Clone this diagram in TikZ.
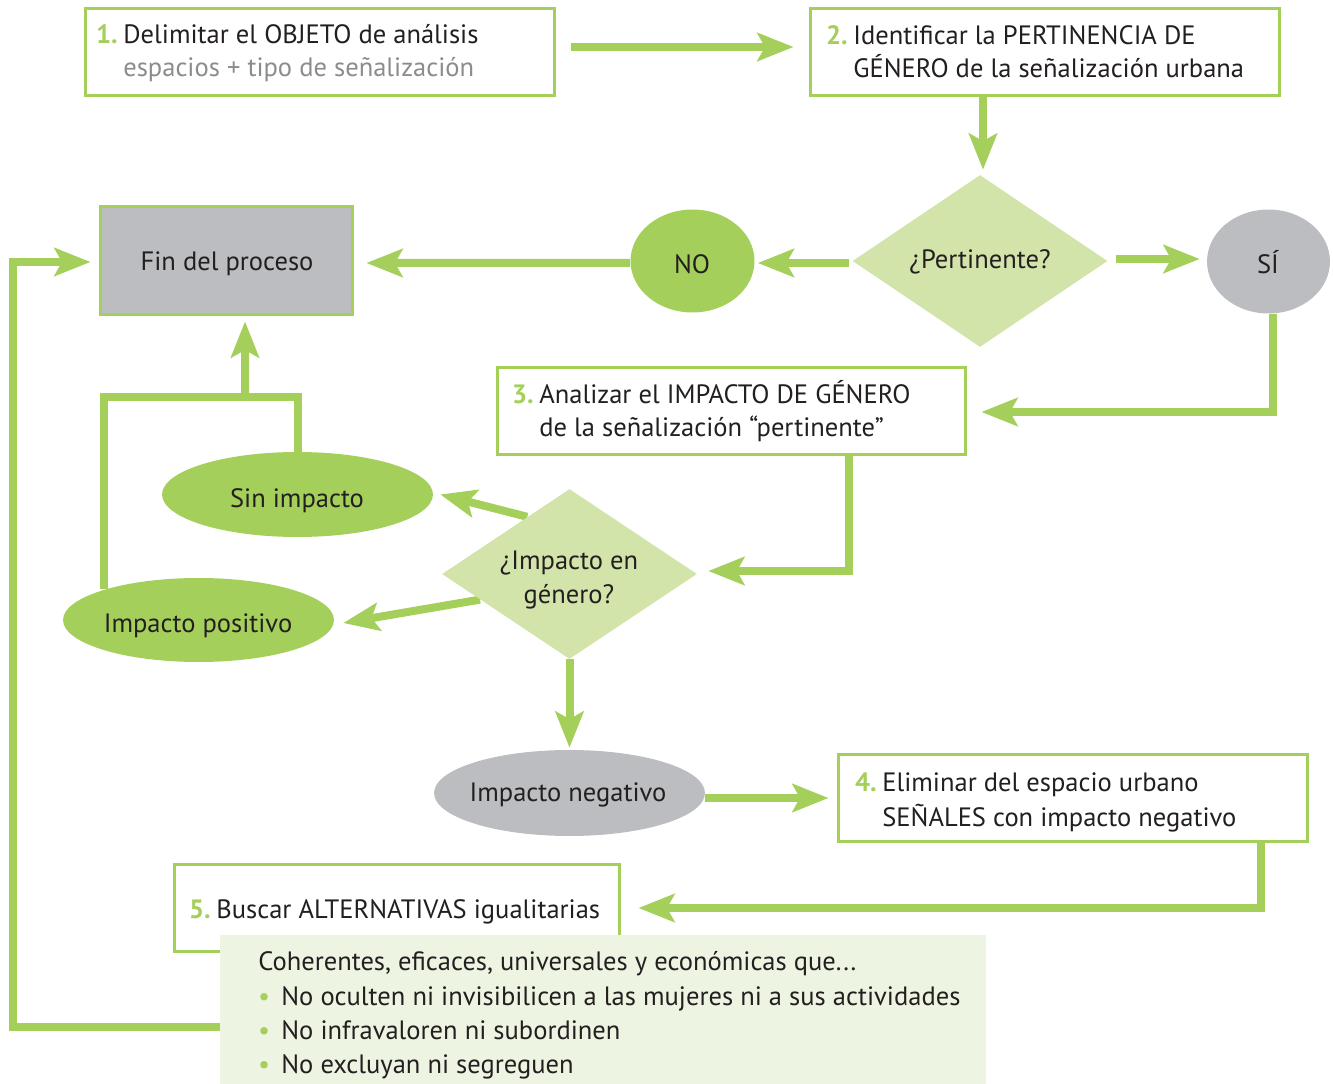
\documentclass[tikz,border=0pt]{standalone}
\usepackage{fontspec}
\setmainfont{PT Sans}
\usetikzlibrary{arrows.meta,shapes.geometric,calc}
\definecolor{gr}{HTML}{A5CF5B}
\definecolor{dfill}{HTML}{D2E4A9}
\definecolor{gy}{HTML}{BCBDC0}
\definecolor{pale}{HTML}{EEF4E2}
\definecolor{txt}{HTML}{231F20}
\definecolor{subt}{HTML}{8C8C8C}
\newcommand\mysz{\fontsize{15.1}{18}\selectfont}
\pgfdeclarelayer{bg}
\pgfsetlayers{bg,main}
\begin{document}
\begin{tikzpicture}[x=0.02cm,y=-0.02cm,
  box/.style={draw=gr,line width=0.06cm,rectangle,inner sep=0,fill=white},
  gbox/.style={box,fill=gy},
  dia/.style={diamond,fill=dfill,draw=none,inner sep=0},
  ell/.style={ellipse,draw=none,inner sep=0},
  conn/.style={draw=gr,line width=0.16cm,line join=miter},
  arr/.style={conn,-{Stealth[length=0.72cm,width=0.56cm,inset=0.15cm]}},
  lab/.style={anchor=base west,inner sep=0,text=txt,font=\mysz},
  clab/.style={anchor=base,inner sep=0,text=txt,font=\mysz,align=center},
  num/.style={anchor=base east,inner sep=0,text=gr,font=\mysz\bfseries},
  bul/.style={anchor=base,inner sep=0,text=gr,font=\mysz},
  gtxt/.style={anchor=base west,inner sep=0,text=subt,font=\mysz}
]
\useasboundingbox (0,0) rectangle (1333,1084);

% shapes
\node[box,minimum width=9.4cm,minimum height=1.76cm] (b1) at (320,52) {};
\node[box,minimum width=9.4cm,minimum height=1.76cm] (b2) at (1045,52) {};
\node[gbox,minimum width=5.06cm,minimum height=2.18cm] (fin) at (226.5,260.5) {};
\node[dia,minimum width=5.1cm,minimum height=3.44cm] (d1) at (980,261) {};
\node[ell,fill=gr,minimum width=2.48cm,minimum height=2.06cm] (no) at (692.5,261) {};
\node[ell,fill=gy,minimum width=2.46cm,minimum height=2.08cm] (si) at (1268.5,261.5) {};
\node[box,minimum width=9.38cm,minimum height=1.76cm] (b3) at (731.5,411) {};
\node[dia,minimum width=5.1cm,minimum height=3.4cm] (d2) at (569.5,574) {};
\node[ell,fill=gr,minimum width=5.42cm,minimum height=1.7cm] (sin) at (297.5,494.5) {};
\node[ell,fill=gr,minimum width=5.42cm,minimum height=1.68cm] (pos) at (198.5,620) {};
\node[ell,fill=gy,minimum width=5.42cm,minimum height=1.72cm] (neg) at (569.5,793) {};
\node[box,minimum width=9.4cm,minimum height=1.76cm] (b4) at (1073,798) {};
\node[box,minimum width=8.92cm,minimum height=1.76cm] (b5) at (397,908) {};
\node[fill=pale,draw=none,inner sep=0,minimum width=15.32cm,minimum height=2.98cm] (panel) at (603,1009.5) {};

% texts
\node[num] (n1) at (118,44) {1.};
\node[lab] (t1a) at (123,44) {Delimitar el OBJETO de análisis};
\node[gtxt] (t1b) at (123,77) {espacios + tipo de señalización};
\node[num] (n2) at (848,45) {2.};
\node[lab] (t2a) at (853,45) {Identificar la PERTINENCIA DE};
\node[lab] (t2b) at (853,78) {GÉNERO de la señalización urbana};
\node[clab] (tfin) at (227,271) {Fin del proceso};
\node[clab] (tno) at (692,274) {NO};
\node[clab] (tsi) at (1268,274) {SÍ};
\node[clab] (td1) at (980,269) {¿Pertinente?};
\node[num] (n3) at (534,404) {3.};
\node[lab] (t3a) at (539,404) {Analizar el IMPACTO DE GÉNERO};
\node[lab] (t3b) at (539,437) {de la señalización “pertinente”};
\node[clab] (td2a) at (569,570) {¿Impacto en};
\node[clab] (td2b) at (569,603) {género?};
\node[clab] (tsin) at (297,508) {Sin impacto};
\node[clab] (tpos) at (198,633) {Impacto positivo};
\node[clab] (tneg) at (568,801) {Impacto negativo};
\node[num] (n4) at (877,791) {4.};
\node[lab] (t4a) at (882,791) {Eliminar del espacio urbano};
\node[lab] (t4b) at (882,826) {SEÑALES con impacto negativo};
\node[num] (n5) at (211,918) {5.};
\node[lab] (t5) at (216,918) {Buscar ALTERNATIVAS igualitarias};
\node[lab] (p0) at (258,970) {Coherentes, eficaces, universales y económicas que...};
\node[bul] (bu1) at (264,1005) {•};
\node[lab] (p1) at (281,1005) {No oculten ni invisibilicen a las mujeres ni a sus actividades};
\node[bul] (bu2) at (264,1039) {•};
\node[lab] (p2) at (281,1039) {No infravaloren ni subordinen};
\node[bul] (bu3) at (264,1073) {•};
\node[lab] (p3) at (281,1073) {No excluyan ni segreguen};

% connectors
\begin{pgfonlayer}{bg}
\draw[arr] ($(b1.east)+(15,-5)$) -- ($(b2.west)+(-15,-5)$);
\draw[arr] ($(b2.south)+(-62,0)$) -- ($(d1.north)+(3,-5)$);
\draw[arr] ($(d1.west)+(-3,2)$) -- ($(no.east)+(3,2)$);
\draw[arr] ($(no.west)+(0,2)$) -- ($(fin.east)+(12,2.5)$);
\draw[arr] ($(d1.east)+(8,-2)$) -- ($(si.west)+(-7,-2.5)$);
\draw[arr] ($(si.south)+(4,0)$) |- ($(b3.east)+(14,1)$);
\draw[arr] ($(b3.south)+(117,0)$) |- ($(d2.east)+(11,-3)$);
\draw[arr] ($(d2.west)!0.67!(d2.north)$) -- ($(sin.east)+(7,0)$);
\draw[arr] ($(d2.west)!0.3!(d2.south)$) -- ($(pos.east)+(9,3)$);
\draw[arr] (d2.south) -- ($(neg.north)+(0,-2)$);
\draw[arr] ($(neg.east)+(0,5)$) -- ($(b4.west)+(-8,0)$);
\draw[arr] ($(b4.south)+(188,0)$) |- ($(b5.east)+(17,0)$);
\draw[arr] ($(panel.west)+(0,17.5)$) -- ++(-207,0) |- ($(fin.west)+(-8,1.5)$);
\coordinate (jn) at (245,397);
\draw[conn] (pos.162) |- (jn) -| (sin.north);
\draw[arr] (jn) -- ($(fin.south)+(18.5,5)$);
\end{pgfonlayer}
\end{tikzpicture}
\end{document}
